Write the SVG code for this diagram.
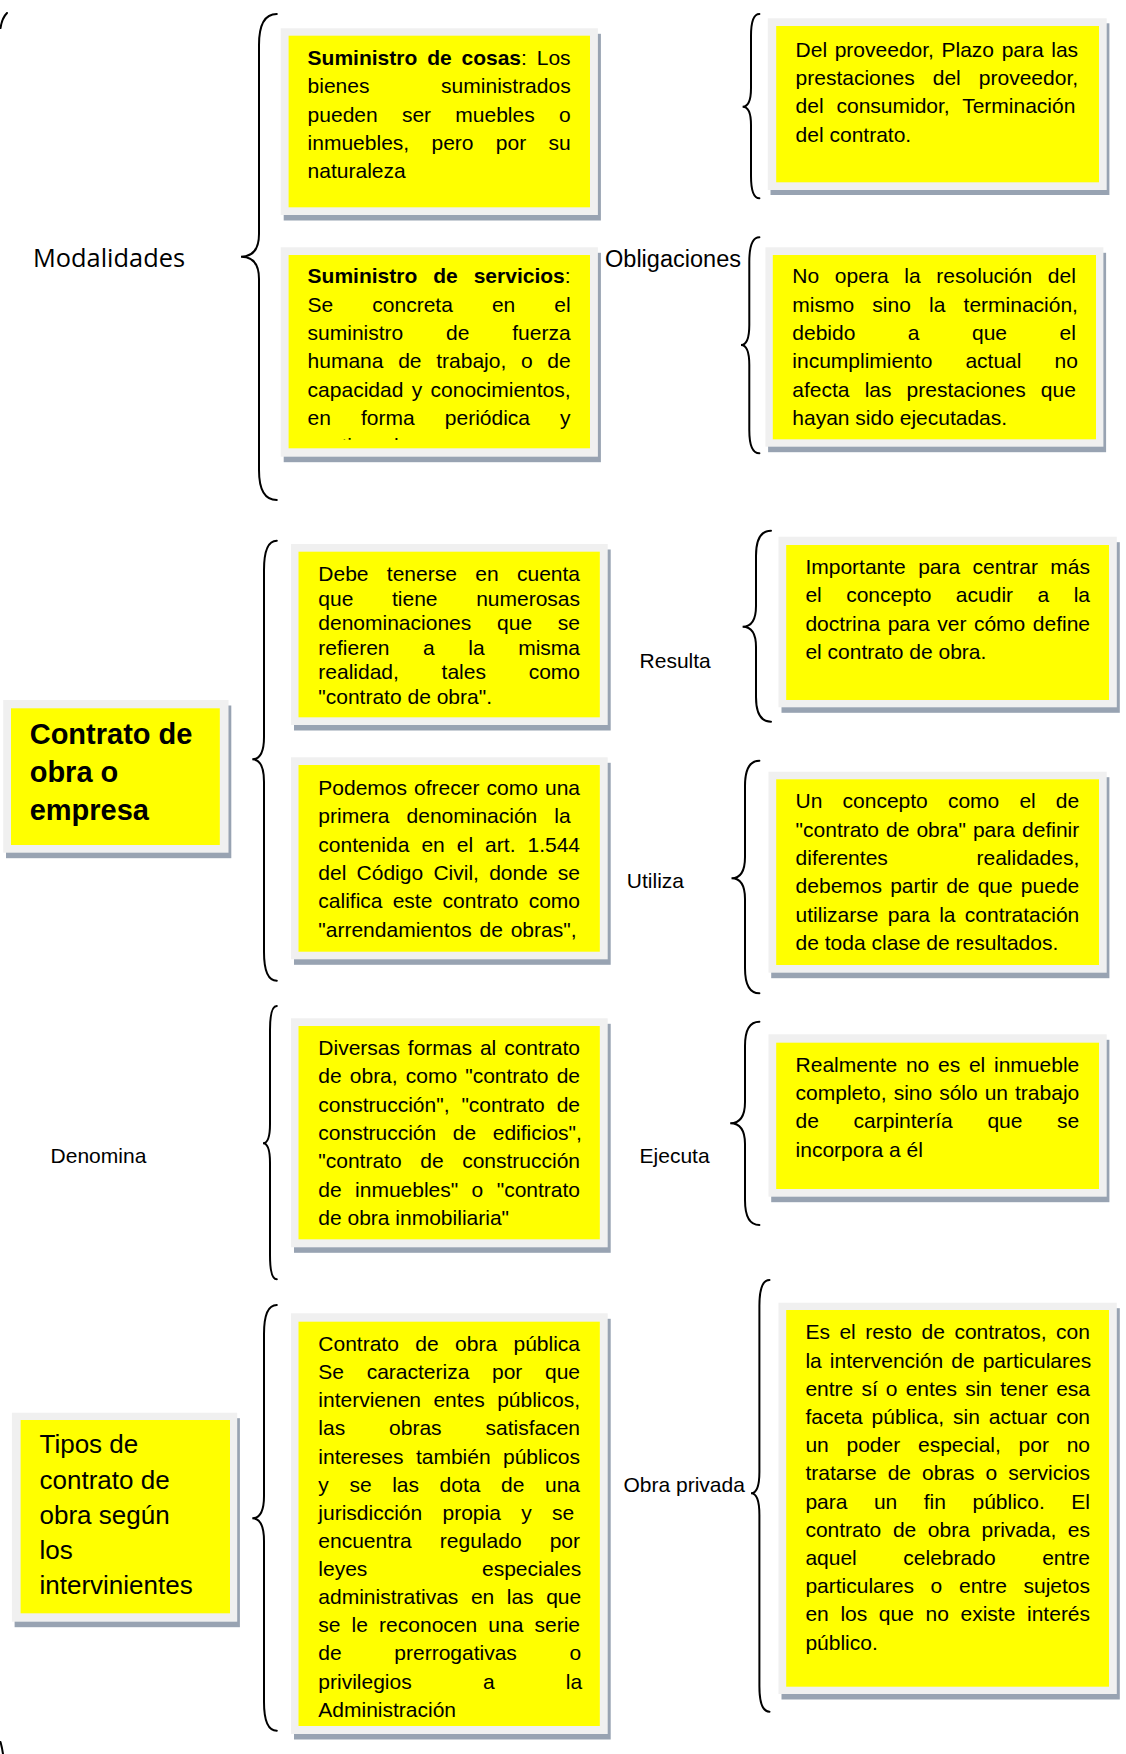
<svg xmlns="http://www.w3.org/2000/svg" width="1126" height="1754" viewBox="0 0 1126 1754">
<style>
.sh{fill:#98a3b2}
.fr{fill:#f0f0f0}
.ye{fill:#ffff00}
.t{font-family:"Liberation Sans",Arial,sans-serif;font-size:21px;fill:#000}
.b{font-weight:bold}
.br{fill:none;stroke:#000;stroke-width:2;stroke-linecap:round}
</style>
<defs>
<clipPath id="clipB"><rect x="280" y="250" width="320" height="190"/></clipPath>
</defs>
<rect x="0" y="0" width="1126" height="1754" fill="#ffffff"/>

<g id="connectors">
<path class="br" d="M7,13 Q2,18 0.5,28"/>
<path class="br" d="M0.5,1742 Q2,1747 3,1754"/>
<path class="br" d="M276.8,14 Q259,14 259,45 L259,234 Q259,256.7 241,256.7 Q259,256.7 259,279 L259,470 Q259,500 276.8,500"/>
<path class="br" d="M759.4,14 Q751,14 751,36 L751,88 Q751,106.7 742.6,106.7 Q751,106.7 751,125 L751,176 Q751,198.3 759.4,198.3"/>
<path class="br" d="M759.4,237.3 Q749.3,237.3 749.3,262 L749.3,325 Q749.3,345 741,345 Q749.3,345 749.3,365 L749.3,430 Q749.3,453.3 759.4,453.3"/>
<path class="br" d="M276.8,540.7 Q264,540.7 264,570 L264,737 Q264,759.3 252.3,759.3 Q264,759.3 264,782 L264,952 Q264,980.7 276.8,980.7"/>
<path class="br" d="M771,530.7 Q756,530.7 756,556 L756,606 Q756,626.7 742.6,626.7 Q756,626.7 756,647 L756,697 Q756,721.7 771,721.7"/>
<path class="br" d="M759.4,760.7 Q745,760.7 745,786 L745,857 Q745,878.3 731.5,878.3 Q745,878.3 745,899 L745,968 Q745,993.3 759.4,993.3"/>
<path class="br" d="M276.8,1006 Q270,1006 270,1030 L270,1124 Q270,1143.3 263,1143.3 Q270,1143.3 270,1163 L270,1255 Q270,1279.3 276.8,1279.3"/>
<path class="br" d="M759.4,1021.7 Q745,1021.7 745,1046 L745,1102 Q745,1123.3 730.2,1123.3 Q745,1123.3 745,1144 L745,1200 Q745,1225 759.4,1225"/>
<path class="br" d="M276.8,1305 Q264,1305 264,1334 L264,1496 Q264,1518.3 252.3,1518.3 Q264,1518.3 264,1541 L264,1702 Q264,1730.7 276.8,1730.7"/>
<path class="br" d="M769.5,1280 Q759.4,1280 759.4,1306 L759.4,1472 Q759.4,1493.3 751,1493.3 Q759.4,1493.3 759.4,1515 L759.4,1686 Q759.4,1711.7 769.5,1711.7"/>
</g>

<g id="label-modalidades"><text x="33" y="266.7" font-family="'Open Sans','Liberation Sans',sans-serif" font-size="25" textLength="152" lengthAdjust="spacingAndGlyphs">Modalidades</text></g>
<g id="label-obligaciones"><text x="605" y="267" class="t" style="font-size:23px" textLength="136" lengthAdjust="spacingAndGlyphs">Obligaciones</text></g>
<g id="label-resulta"><text x="639.6" y="668.3" class="t">Resulta</text></g>
<g id="label-utiliza"><text x="626.8" y="888.3" class="t">Utiliza</text></g>
<g id="label-denomina"><text x="50.6" y="1162.7" class="t">Denomina</text></g>
<g id="label-ejecuta"><text x="639.6" y="1162.7" class="t">Ejecuta</text></g>
<g id="label-obra-privada"><text x="623.5" y="1491.7" class="t">Obra privada</text></g>

<g id="box-cosas">
<rect class="sh" x="283.7" y="33.8" width="317.2" height="186.7"/>
<rect class="fr" x="280.7" y="28.3" width="317.2" height="186.7"/>
<rect class="ye" x="288.6" y="35.7" width="301.4" height="171.6"/>
<text class="t" x="307.6" y="65" word-spacing="4.03"><tspan class="b">Suministro de cosas</tspan>: Los</text>
<text class="t" x="307.6" y="93.3" word-spacing="65.8">bienes suministrados</text>
<text class="t" x="307.6" y="121.7" word-spacing="18.4">pueden ser muebles o</text>
<text class="t" x="307.6" y="150" word-spacing="16.47">inmuebles, pero por su</text>
<text class="t" x="307.6" y="177.7">naturaleza</text>
</g>

<g id="box-servicios">
<rect class="sh" x="283.7" y="252.8" width="317.2" height="209.4"/>
<rect class="fr" x="280.7" y="247.3" width="317.2" height="209.4"/>
<rect class="ye" x="288.6" y="255" width="301.4" height="193.3"/>
<text class="t" x="307.6" y="283.3" word-spacing="10.12"><tspan class="b">Suministro de servicios</tspan>:</text>
<text class="t" x="307.6" y="311.7" word-spacing="33.2">Se concreta en el</text>
<text class="t" x="307.6" y="340" word-spacing="36.97">suministro de fuerza</text>
<text class="t" x="307.6" y="368.3" word-spacing="8.84">humana de trabajo, o de</text>
<text class="t" x="307.6" y="396.7" word-spacing="2.53">capacidad y conocimientos,</text>
<text class="t" x="307.6" y="425" word-spacing="24.25">en forma periódica y</text>
<text class="t" x="307.6" y="453.3" clip-path="url(#clipB)">continuada.</text>
</g>

<g id="box-proveedor">
<rect class="sh" x="770.5" y="23.3" width="338.9" height="171.7"/>
<rect class="fr" x="767.8" y="18.3" width="338.9" height="171.7"/>
<rect class="ye" x="776.2" y="26" width="322.8" height="156.3"/>
<text class="t" x="795.6" y="56.7" word-spacing="1.75">Del proveedor, Plazo para las</text>
<text class="t" x="795.6" y="85" word-spacing="12.24">prestaciones del proveedor,</text>
<text class="t" x="795.6" y="113.3" word-spacing="7.01">del consumidor, Terminación</text>
<text class="t" x="795.6" y="141.7">del contrato.</text>
</g>

<g id="box-resolucion">
<rect class="sh" x="768.1" y="252.8" width="338" height="199.4"/>
<rect class="fr" x="765.4" y="247.3" width="338" height="199.4"/>
<rect class="ye" x="772.8" y="255" width="323.2" height="184.3"/>
<text class="t" x="792.3" y="283.3" word-spacing="9.89">No opera la resolución del</text>
<text class="t" x="792.3" y="311.7" word-spacing="12.35">mismo sino la terminación,</text>
<text class="t" x="792.3" y="340" word-spacing="46.64">debido a que el</text>
<text class="t" x="792.3" y="368.3" word-spacing="27.22">incumplimiento actual no</text>
<text class="t" x="792.3" y="396.7" word-spacing="9.29">afecta las prestaciones que</text>
<text class="t" x="792.3" y="425">hayan sido ejecutadas.</text>
</g>

<g id="box-contrato-obra">
<rect class="sh" x="6" y="705.5" width="225.3" height="152.7"/>
<rect class="fr" x="3.2" y="700" width="225.3" height="152.7"/>
<rect class="ye" x="11" y="708.3" width="208.8" height="136.7"/>
<text class="t b" x="29.7" y="744" style="font-size:29px">Contrato de</text>
<text class="t b" x="29.7" y="782" style="font-size:29px">obra o</text>
<text class="t b" x="29.7" y="820" style="font-size:29px">empresa</text>
</g>

<g id="box-denominaciones">
<rect class="sh" x="294" y="549.5" width="316.7" height="181"/>
<rect class="fr" x="291" y="544" width="316.7" height="181"/>
<rect class="ye" x="298.5" y="551.7" width="301.3" height="165.6"/>
<text class="t" x="318.3" y="581" word-spacing="12.52">Debe tenerse en cuenta</text>
<text class="t" x="318.3" y="605.6" word-spacing="32.8">que tiene numerosas</text>
<text class="t" x="318.3" y="630.2" word-spacing="19.96">denominaciones que se</text>
<text class="t" x="318.3" y="654.8" word-spacing="27.72">refieren a la misma</text>
<text class="t" x="318.3" y="679.4" word-spacing="36.9">realidad, tales como</text>
<text class="t" x="318.3" y="704">"contrato de obra".</text>
</g>

<g id="box-primera-denominacion">
<rect class="sh" x="294" y="762.8" width="316.7" height="202"/>
<rect class="fr" x="291" y="757.3" width="316.7" height="202"/>
<rect class="ye" x="298.5" y="765" width="301.3" height="186.7"/>
<text class="t" x="318.3" y="795" word-spacing="1.25">Podemos ofrecer como una</text>
<text class="t" x="318.3" y="823.3" word-spacing="11.22">primera denominación la</text>
<text class="t" x="318.3" y="851.7" word-spacing="6.18">contenida en el art. 1.544</text>
<text class="t" x="318.3" y="880" word-spacing="4.44">del Código Civil, donde se</text>
<text class="t" x="318.3" y="908.3" word-spacing="4.37">califica este contrato como</text>
<text class="t" x="318.3" y="936.7" word-spacing="2">"arrendamientos de obras",</text>
</g>

<g id="box-importante">
<rect class="sh" x="781.5" y="542.2" width="338.3" height="170.6"/>
<rect class="fr" x="778.5" y="536.7" width="338.3" height="170.6"/>
<rect class="ye" x="786.2" y="545" width="322.8" height="155"/>
<text class="t" x="805.4" y="574" word-spacing="6.56">Importante para centrar más</text>
<text class="t" x="805.4" y="602.3" word-spacing="18.62">el concepto acudir a la</text>
<text class="t" x="805.4" y="630.7" word-spacing="1.7">doctrina para ver cómo define</text>
<text class="t" x="805.4" y="659">el contrato de obra.</text>
</g>

<g id="box-concepto">
<rect class="sh" x="771.2" y="777.2" width="338.2" height="201"/>
<rect class="fr" x="768.5" y="771.7" width="338.2" height="201"/>
<rect class="ye" x="776.2" y="779.3" width="322.8" height="185.7"/>
<text class="t" x="795.6" y="808.3" word-spacing="14.29">Un concepto como el de</text>
<text class="t" x="795.6" y="836.7" word-spacing="1.22">"contrato de obra" para definir</text>
<text class="t" x="795.6" y="865" word-spacing="82.84">diferentes realidades,</text>
<text class="t" x="795.6" y="893.3" word-spacing="2.32">debemos partir de que puede</text>
<text class="t" x="795.6" y="921.7" word-spacing="3.5">utilizarse para la contratación</text>
<text class="t" x="795.6" y="950">de toda clase de resultados.</text>
</g>

<g id="box-diversas-formas">
<rect class="sh" x="294" y="1023.8" width="316.7" height="229"/>
<rect class="fr" x="291" y="1018.3" width="316.7" height="229"/>
<rect class="ye" x="298.5" y="1026" width="301.3" height="213.3"/>
<text class="t" x="318.3" y="1055" word-spacing="2.04">Diversas formas al contrato</text>
<text class="t" x="318.3" y="1083.3" word-spacing="2.28">de obra, como "contrato de</text>
<text class="t" x="318.3" y="1111.7" word-spacing="6.09">construcción", "contrato de</text>
<text class="t" x="318.3" y="1140" word-spacing="10.77">construcción de edificios",</text>
<text class="t" x="318.3" y="1168.3" word-spacing="12.74">"contrato de construcción</text>
<text class="t" x="318.3" y="1196.7" word-spacing="7.56">de inmuebles" o "contrato</text>
<text class="t" x="318.3" y="1225">de obra inmobiliaria"</text>
</g>

<g id="box-realmente">
<rect class="sh" x="771.2" y="1039.8" width="338.2" height="162.4"/>
<rect class="fr" x="768.5" y="1034.3" width="338.2" height="162.4"/>
<rect class="ye" x="776.2" y="1042.7" width="322.8" height="146.3"/>
<text class="t" x="795.6" y="1071.7" word-spacing="2.91">Realmente no es el inmueble</text>
<text class="t" x="795.6" y="1100" word-spacing="1.16">completo, sino sólo un trabajo</text>
<text class="t" x="795.6" y="1128.3" word-spacing="28.78">de carpintería que se</text>
<text class="t" x="795.6" y="1156.7">incorpora a él</text>
</g>

<g id="box-tipos">
<rect class="sh" x="14.6" y="1418.2" width="225.3" height="209"/>
<rect class="fr" x="11.9" y="1412.7" width="225.3" height="209"/>
<rect class="ye" x="20.6" y="1420" width="209.4" height="193.3"/>
<text class="t" x="39.5" y="1453.3" style="font-size:26px">Tipos de</text>
<text class="t" x="39.5" y="1488.5" style="font-size:26px">contrato de</text>
<text class="t" x="39.5" y="1523.7" style="font-size:26px">obra según</text>
<text class="t" x="39.5" y="1558.9" style="font-size:26px">los</text>
<text class="t" x="39.5" y="1594.1" style="font-size:26px">intervinientes</text>
</g>

<g id="box-obra-publica">
<rect class="sh" x="294" y="1318.8" width="316.7" height="420.7"/>
<rect class="fr" x="291" y="1313.3" width="316.7" height="420.7"/>
<rect class="ye" x="298.5" y="1321.7" width="301.3" height="404.3"/>
<text class="t" x="318.3" y="1351" word-spacing="10.58">Contrato de obra pública</text>
<text class="t" x="318.3" y="1379.1" word-spacing="16.81">Se caracteriza por que</text>
<text class="t" x="318.3" y="1407.3" word-spacing="6.54">intervienen entes públicos,</text>
<text class="t" x="318.3" y="1435.4" word-spacing="38.06">las obras satisfacen</text>
<text class="t" x="318.3" y="1463.5" word-spacing="6.55">intereses también públicos</text>
<text class="t" x="318.3" y="1491.7" word-spacing="14.75">y se las dota de una</text>
<text class="t" x="318.3" y="1519.8" word-spacing="14.48">jurisdicción propia y se</text>
<text class="t" x="318.3" y="1547.9" word-spacing="22.29">encuentra regulado por</text>
<text class="t" x="318.3" y="1576" word-spacing="108.8">leyes especiales</text>
<text class="t" x="318.3" y="1604.2" word-spacing="6.7">administrativas en las que</text>
<text class="t" x="318.3" y="1632.3" word-spacing="5.31">se le reconocen una serie</text>
<text class="t" x="318.3" y="1660.4" word-spacing="46.82">de prerrogativas o</text>
<text class="t" x="318.3" y="1688.6" word-spacing="65.38">privilegios a la</text>
<text class="t" x="318.3" y="1716.7">Administración</text>
</g>

<g id="box-obra-privada">
<rect class="sh" x="781.5" y="1308.2" width="338.3" height="391.3"/>
<rect class="fr" x="778.5" y="1302.7" width="338.3" height="391.3"/>
<rect class="ye" x="786.2" y="1310" width="322.8" height="376.7"/>
<text class="t" x="805.4" y="1339.3" word-spacing="3.69">Es el resto de contratos, con</text>
<text class="t" x="805.4" y="1367.5" word-spacing="2.28">la intervención de particulares</text>
<text class="t" x="805.4" y="1395.7" word-spacing="2.3">entre sí o entes sin tener esa</text>
<text class="t" x="805.4" y="1423.9" word-spacing="3.16">faceta pública, sin actuar con</text>
<text class="t" x="805.4" y="1452.1" word-spacing="11.91">un poder especial, por no</text>
<text class="t" x="805.4" y="1480.3" word-spacing="5.21">tratarse de obras o servicios</text>
<text class="t" x="805.4" y="1508.5" word-spacing="20.67">para un fin público. El</text>
<text class="t" x="805.4" y="1536.7" word-spacing="5.78">contrato de obra privada, es</text>
<text class="t" x="805.4" y="1564.9" word-spacing="40.74">aquel celebrado entre</text>
<text class="t" x="805.4" y="1593.1" word-spacing="10.83">particulares o entre sujetos</text>
<text class="t" x="805.4" y="1621.3" word-spacing="5.8">en los que no existe interés</text>
<text class="t" x="805.4" y="1649.5">público.</text>
</g>
</svg>
